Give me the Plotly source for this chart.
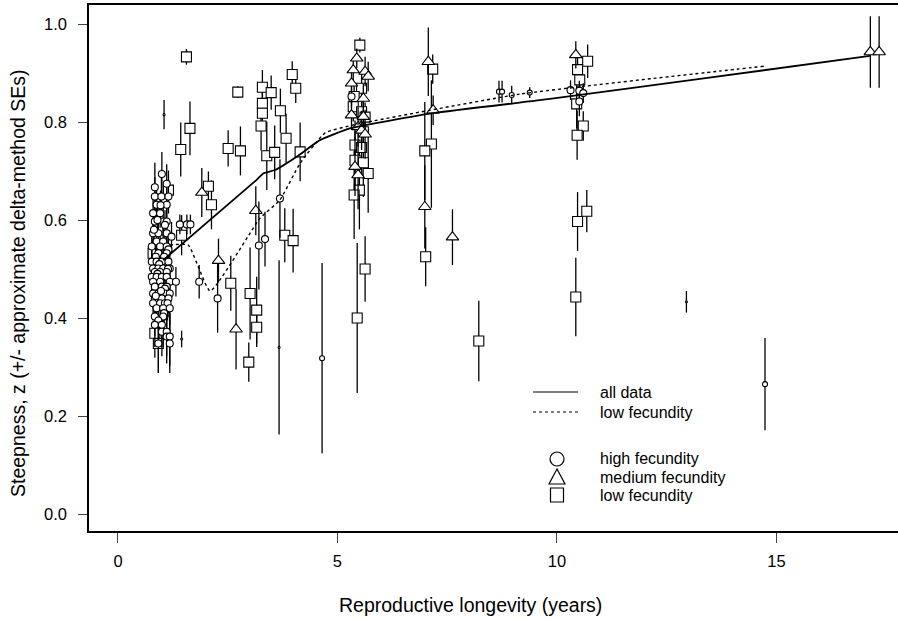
import plotly.graph_objects as go

# ---------------- data ----------------
# high fecundity (circles)
hx = [1.00, 0.84, 1.11, 0.84, 0.99, 1.15, 0.88, 1.11, 0.97, 0.80, 0.96, 0.84, 1.03, 1.11, 0.90, 1.07,
      0.80, 0.92, 1.11, 0.82, 1.22, 0.88, 1.03, 0.77, 0.96, 1.11, 1.15, 0.92, 1.11, 0.86, 1.05,
      0.77, 0.88, 1.00, 1.15, 0.94, 0.80, 0.92, 1.03, 1.18, 1.14, 0.84, 0.96, 1.11, 0.90,
      0.77, 0.88, 1.00, 1.11, 0.80, 0.96, 1.18, 1.32, 0.84, 1.00, 1.11, 1.07,
      0.80, 0.92, 1.07, 1.18, 0.98, 0.84, 1.00, 1.15, 0.86, 0.80, 0.96, 1.07, 1.13,
      0.88, 1.03, 1.18, 1.05, 0.84, 1.03, 0.92, 0.84, 1.00, 1.00, 1.11, 1.11, 1.18, 0.92, 1.18,
      1.41, 1.57, 1.65, 1.85, 2.27, 3.21, 3.35, 3.69, 5.32, 10.31, 10.51, 10.60, 10.51]
hy = [0.694, 0.667, 0.674, 0.648, 0.648, 0.648, 0.631, 0.631, 0.630, 0.614, 0.614, 0.597, 0.597, 0.597, 0.600, 0.590,
      0.573, 0.573, 0.573, 0.580, 0.566, 0.556, 0.556, 0.546, 0.546, 0.546, 0.540, 0.532, 0.532, 0.525, 0.525,
      0.515, 0.515, 0.515, 0.515, 0.510, 0.501, 0.501, 0.501, 0.501, 0.500, 0.494, 0.494, 0.494, 0.490,
      0.484, 0.484, 0.484, 0.484, 0.474, 0.474, 0.474, 0.474, 0.464, 0.464, 0.464, 0.460,
      0.450, 0.450, 0.450, 0.450, 0.455, 0.440, 0.440, 0.440, 0.445, 0.430, 0.430, 0.430, 0.430,
      0.420, 0.420, 0.420, 0.410, 0.403, 0.403, 0.395, 0.386, 0.386, 0.372, 0.372, 0.362, 0.362, 0.348, 0.348,
      0.591, 0.591, 0.591, 0.474, 0.440, 0.548, 0.561, 0.644, 0.852, 0.865, 0.864, 0.859, 0.842]
hse = [0.045, 0.050, 0.040, 0.040, 0.040, 0.035, 0.035, 0.035, 0.030, 0.035, 0.030, 0.030, 0.030, 0.030, 0.030, 0.030,
       0.030, 0.030, 0.030, 0.030, 0.030, 0.030, 0.030, 0.030, 0.030, 0.030, 0.030, 0.030, 0.030, 0.030, 0.030,
       0.030, 0.030, 0.030, 0.030, 0.030, 0.030, 0.030, 0.030, 0.030, 0.030, 0.030, 0.030, 0.030, 0.030,
       0.030, 0.030, 0.030, 0.030, 0.030, 0.030, 0.030, 0.030, 0.030, 0.030, 0.030, 0.030,
       0.030, 0.030, 0.030, 0.030, 0.030, 0.030, 0.030, 0.030, 0.030, 0.035, 0.035, 0.035, 0.035,
       0.035, 0.035, 0.035, 0.035, 0.040, 0.040, 0.040, 0.045, 0.045, 0.050, 0.050, 0.055, 0.060, 0.060, 0.060,
       0.020, 0.020, 0.020, 0.034, 0.070, 0.090, 0.056, 0.080, 0.020, 0.020, 0.020, 0.020, 0.030]

# high fecundity, small symbols
hsx = [4.65, 8.68, 8.75, 8.97, 9.38, 14.74]
hsy = [0.318, 0.862, 0.862, 0.855, 0.860, 0.265]
hsse = [0.194, 0.022, 0.022, 0.019, 0.011, 0.094]

# estimates whose symbol is barely visible (only the SE bar shows)
bx = [1.05, 1.45, 3.67, 12.95]
by = [0.815, 0.357, 0.340, 0.433]
bse = [0.030, 0.017, 0.178, 0.022]

# medium fecundity (triangles)
mx = [1.91, 2.29, 2.69, 3.14,
      5.44, 5.36, 5.63, 5.70, 5.32, 5.59, 5.32, 5.59, 5.47, 5.55, 5.63, 5.40, 5.47,
      7.07, 7.18, 6.99, 7.62, 10.43, 17.14, 17.34]
my = [0.656, 0.517, 0.377, 0.619,
      0.930, 0.906, 0.903, 0.893, 0.879, 0.848, 0.814, 0.811, 0.790, 0.783, 0.775, 0.709, 0.692,
      0.923, 0.824, 0.627, 0.565, 0.937, 0.943, 0.943]
mse = [0.050, 0.045, 0.082, 0.050,
       0.020, 0.025, 0.030, 0.030, 0.030, 0.030, 0.030, 0.040, 0.040, 0.040, 0.050, 0.060, 0.070,
       0.070, 0.030, 0.085, 0.057, 0.028, 0.073, 0.073]

# low fecundity (squares)
lx = [1.56, 1.64, 1.43, 1.45, 0.80, 0.84, 1.15, 1.03, 0.92,
      2.06, 2.13, 2.51, 2.73, 2.79, 2.57, 3.01, 3.16, 3.16, 2.98,
      3.29, 3.29, 3.29, 3.26, 3.49, 3.70, 3.83, 3.97, 4.05, 3.39, 3.57, 4.15, 3.80, 3.99,
      5.51, 5.55, 5.38, 5.36, 5.55, 5.63, 5.59, 5.40, 5.55, 5.40, 5.59, 5.70, 5.50, 5.38, 5.63, 5.45,
      7.17, 7.14, 6.99, 7.01, 8.22,
      10.70, 10.47, 10.52, 10.45, 10.60, 10.46, 10.47, 10.68, 10.43]
ly = [0.933, 0.787, 0.744, 0.569, 0.532, 0.369, 0.661, 0.413, 0.348,
      0.669, 0.631, 0.746, 0.861, 0.741, 0.471, 0.450, 0.416, 0.381, 0.310,
      0.871, 0.838, 0.818, 0.792, 0.860, 0.823, 0.767, 0.897, 0.869, 0.731, 0.738, 0.739, 0.569, 0.558,
      0.957, 0.869, 0.852, 0.831, 0.821, 0.810, 0.780, 0.753, 0.748, 0.722, 0.717, 0.695, 0.661, 0.651, 0.500, 0.400,
      0.908, 0.755, 0.741, 0.525, 0.353,
      0.924, 0.907, 0.886, 0.837, 0.792, 0.773, 0.597, 0.618, 0.443]
lse = [0.016, 0.055, 0.055, 0.041, 0.030, 0.050, 0.040, 0.030, 0.060,
       0.030, 0.050, 0.037, 0.012, 0.050, 0.056, 0.094, 0.068, 0.040, 0.040,
       0.035, 0.030, 0.030, 0.050, 0.035, 0.045, 0.050, 0.027, 0.030, 0.070, 0.055, 0.060, 0.055, 0.065,
       0.015, 0.030, 0.030, 0.030, 0.030, 0.030, 0.040, 0.050, 0.060, 0.060, 0.070, 0.080, 0.080, 0.090, 0.067, 0.153,
       0.030, 0.130, 0.100, 0.060, 0.082,
       0.034, 0.030, 0.030, 0.050, 0.030, 0.050, 0.060, 0.043, 0.080]

# smoothed curves
all_x = [1.03, 3.16, 3.31, 3.58, 4.07, 4.60, 5.28, 7.18, 9.84, 13.26, 17.13]
all_y = [0.518, 0.682, 0.695, 0.702, 0.729, 0.763, 0.787, 0.818, 0.847, 0.888, 0.935]
low_x = [1.18, 1.60, 2.10, 3.23, 3.69, 4.15, 4.72, 5.36, 9.16, 13.71, 14.74]
low_y = [0.549, 0.549, 0.455, 0.603, 0.641, 0.716, 0.778, 0.794, 0.857, 0.904, 0.914]

x_ticks = [0, 5, 10, 15]
y_ticks = [0.0, 0.2, 0.4, 0.6, 0.8, 1.0]
legend_lines = ["all data", "low fecundity"]
legend_symbols = ["high fecundity", "medium fecundity", "low fecundity"]

# ---------------- figure ----------------
FONT = "Liberation Sans, Arial, Helvetica, sans-serif"
W, H = 898, 620
ML, MR, MT, MB = 89, 0, 5, 89
PW, PH = W - ML - MR, H - MT - MB


def px(x):
    return (x - ML) / PW


def py(y):
    return (H - MB - y) / PH


fig = go.Figure()


def err(se):
    return dict(type="data", array=se, symmetric=True, width=0, thickness=1.3, color="black")


def pts(x, y, se, symbol, size):
    fig.add_trace(go.Scatter(
        x=x, y=y, mode="markers", showlegend=False, hoverinfo="skip",
        error_y=err(se),
        marker=dict(symbol=symbol, size=size, color="white",
                    line=dict(color="black", width=1.1)),
    ))


pts(bx, by, bse, "circle", 2)
pts(lx, ly, lse, "square", 10)
pts(mx, my, mse, "triangle-up", 11)
pts(hx, hy, hse, "circle", 7)
pts(hsx, hsy, hsse, "circle", 5)

fig.add_trace(go.Scatter(x=all_x, y=all_y, mode="lines", showlegend=False, hoverinfo="skip",
                         line=dict(color="black", width=1.8, shape="spline", smoothing=0.4)))
fig.add_trace(go.Scatter(x=low_x, y=low_y, mode="lines", showlegend=False, hoverinfo="skip",
                         line=dict(color="black", width=1.4, dash="dot", shape="spline", smoothing=0.4)))

# ---- hand-drawn key (matches the original's layout) ----
shapes = []
annotations = []
text_x = 598
for i, (lab, dash) in enumerate(zip(legend_lines, ["solid", "dot"])):
    yy = 392 + 20 * i
    shapes.append(dict(type="line", xref="paper", yref="paper", x0=px(533), x1=px(578),
                       y0=py(yy), y1=py(yy), line=dict(color="black", width=1.2, dash=dash)))
    annotations.append(dict(text=lab, xref="paper", yref="paper", x=px(text_x), y=py(yy),
                            xanchor="left", yanchor="middle", showarrow=False, font=dict(size=16)))
cx = 557
sym_y = [459, 477, 495]
r = 7
shapes.append(dict(type="circle", xref="paper", yref="paper", x0=px(cx - r), x1=px(cx + r),
                   y0=py(sym_y[0] + r), y1=py(sym_y[0] - r), line=dict(color="black", width=1.2)))
ty = sym_y[1]
shapes.append(dict(type="path", xref="paper", yref="paper",
                   path="M {} {} L {} {} L {} {} Z".format(px(cx - 8), py(ty + 7), px(cx + 8), py(ty + 7),
                                                           px(cx), py(ty - 8)),
                   line=dict(color="black", width=1.2)))
sy = sym_y[2]
shapes.append(dict(type="rect", xref="paper", yref="paper", x0=px(cx - 6.5), x1=px(cx + 6.5),
                   y0=py(sy + 7), y1=py(sy - 7), line=dict(color="black", width=1.2)))
for lab, yy in zip(legend_symbols, sym_y):
    annotations.append(dict(text=lab, xref="paper", yref="paper", x=px(text_x), y=py(yy),
                            xanchor="left", yanchor="middle", showarrow=False, font=dict(size=16)))

annotations += [
    dict(text="Reproductive longevity (years)", xref="paper", yref="paper",
         x=px(470), y=py(605), showarrow=False,
         font=dict(size=19.5), xanchor="center", yanchor="middle"),
    dict(text="Steepness, z (+/- approximate delta-method SEs)", xref="paper", yref="paper",
         x=px(18), y=py(283), showarrow=False, textangle=-90,
         font=dict(size=19.5), xanchor="center", yanchor="middle"),
]

fig.update_layout(
    width=W, height=H,
    margin=dict(l=ML, r=MR, t=MT, b=MB),
    paper_bgcolor="white", plot_bgcolor="white",
    font=dict(family=FONT, size=16, color="black"),
    showlegend=False,
    shapes=shapes,
    annotations=annotations,
    xaxis=dict(range=[-0.66, 17.77], tickvals=x_ticks, ticks="outside", ticklen=10, tickwidth=1.2,
               showline=True, linecolor="black", linewidth=1.5, mirror=True, showgrid=False,
               zeroline=False, tickfont=dict(size=16.5), ticklabelstandoff=4),
    yaxis=dict(range=[-0.0347, 1.0388], tickvals=y_ticks, tickformat=".1f", ticks="outside",
               ticklen=9, tickwidth=1.2, showline=True, linecolor="black", linewidth=1.5,
               showgrid=False, zeroline=False, tickfont=dict(size=16.5), ticklabelstandoff=8),
)

fig.write_html("out.html")
